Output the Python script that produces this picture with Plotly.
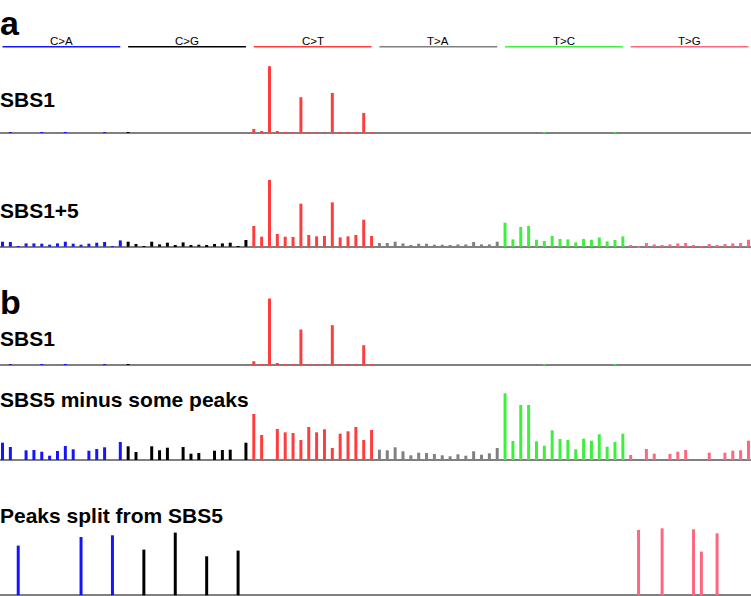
import plotly.graph_objects as go

# ---------------- data ----------------
groups = ["C>A", "C>G", "C>T", "T>A", "T>C", "T>G"]
group_colors = ["#1414ff", "#000000", "#ff3d3d", "#808080", "#3cf03c", "#ff6680"]
header_colors = ["#1414ff", "#000000", "#ff3d3d", "#808080", "#3cf03c", "#ff6680"]

# SBS1 (relative heights, 96 channels)
sbs1 = [0.0] * 96
sbs1_ct = [3.8, 0.8, 66.5, 1.3, 0.2, 0.2, 35.5, 0.2, 0.5, 0.2, 39.8, 0.2, 0.2, 0.2, 19.8, 0.2]
sbs1[32:48] = sbs1_ct
for i, v in [(1, 0.3), (5, 0.3), (8, 0.3), (13, 0.3), (16, 0.3), (60, 0.4), (69, 0.5), (78, 0.3)]:
    sbs1[i] = v

sbs1_5 = [
    # C>A
    5.0, 4.7, 0.7, 3.3, 3.3, 3.0, 2.0, 3.3, 5.0, 3.0, 2.0, 3.0, 4.0, 4.7, 0.7, 6.3,
    # C>G
    5.0, 2.7, 0.7, 5.0, 2.3, 4.0, 1.3, 4.3, 1.3, 2.0, 1.3, 2.7, 3.3, 4.0, 0.7, 6.7,
    # C>T
    20.7, 10.0, 66.7, 12.7, 10.0, 9.7, 43.0, 11.7, 10.3, 10.7, 44.3, 9.3, 10.3, 11.7, 27.0, 10.7,
    # T>A
    3.7, 3.7, 5.0, 3.3, 1.7, 3.0, 3.0, 2.0, 2.0, 1.3, 2.3, 2.3, 4.7, 2.3, 2.3, 5.0,
    # T>C
    24.0, 7.3, 19.7, 20.7, 7.0, 5.7, 10.7, 7.7, 7.3, 4.3, 7.7, 7.0, 9.3, 5.3, 6.7, 10.3,
    # T>G
    1.7, -0.7, 3.7, 2.3, 1.0, 2.3, 3.3, 3.7, 1.0, 0.7, 2.7, 1.0, 2.7, 3.3, 3.7, 7.0,
]

sbs5_minus = [
    # C>A
    17.3, 13.0, 0.0, 9.7, 10.0, 8.3, 4.3, 9.0, 14.0, 10.7, 0.0, 9.3, 11.0, 12.7, 0.0, 18.0,
    # C>G
    13.7, 8.0, 0.0, 13.7, 9.7, 12.3, 0.0, 13.0, 6.3, 7.0, 0.0, 9.3, 10.0, 10.3, 0.0, 17.3,
    # C>T
    46.0, 25.0, 0.0, 31.0, 27.7, 27.0, 20.0, 33.0, 27.7, 30.7, 12.0, 26.3, 28.7, 33.0, 20.0, 30.0,
    # T>A
    10.3, 9.7, 12.7, 8.7, 4.7, 7.3, 7.0, 6.0, 4.7, 3.7, 5.7, 4.3, 8.7, 5.3, 6.7, 12.0,
    # T>C
    66.7, 19.0, 55.0, 55.0, 18.7, 14.3, 29.7, 21.0, 20.0, 10.7, 21.3, 19.3, 25.7, 13.3, 18.0, 26.3,
    # T>G
    5.0, 0.0, 11.0, 6.3, 0.0, 6.0, 8.3, 10.0, 0.0, 0.0, 7.3, 0.0, 7.3, 9.3, 9.7, 19.3,
]

peaks = [0.0] * 96
peak_idx = [2, 10, 14, 18, 22, 26, 30, 81, 84, 88, 89, 91]
peak_val = [49.7, 58.3, 60.0, 45.7, 62.7, 39.0, 44.7, 65.3, 67.0, 66.0, 43.7, 62.0]
for i, v in zip(peak_idx, peak_val):
    peaks[i] = v

panel_names = ["SBS1", "SBS1+5", "SBS1", "SBS5 minus some peaks", "Peaks split from SBS5"]
panel_data = [sbs1, sbs1_5, sbs1, sbs5_minus, peaks]

# ---------------- layout geometry (pixels) ----------------
W, H = 751, 596
# (top px, bottom px, baseline px)
panel_px = [(60, 136, 132.7), (170, 252, 246.7), (290, 370, 365.0), (385, 465, 460.0), (525, 596, 595.3)]
label_y = [99.5, 210.0, 338.7, 399.0, 515.8]

x = list(range(96))
bar_colors = [group_colors[i // 16] for i in x]

fig = go.Figure()
layout = dict(
    width=W, height=H, margin=dict(l=0, r=0, t=0, b=0),
    paper_bgcolor="white", plot_bgcolor="white", showlegend=False,
)
annotations = []
shapes = []

FONT = "Liberation Sans, Arial"

for k, (data, (top, bot, base)) in enumerate(zip(panel_data, panel_px)):
    n = "" if k == 0 else str(k + 1)
    fig.add_trace(go.Bar(
        x=x, y=data, width=0.38, marker=dict(color=bar_colors, line=dict(width=0)),
        xaxis="x" + n, yaxis="y" + n, hoverinfo="skip",
    ))
    layout["xaxis" + n] = dict(
        domain=[0, 1], range=[-0.32, 95.32], visible=False,
        anchor="y" + n, fixedrange=True,
    )
    layout["yaxis" + n] = dict(
        domain=[1 - bot / H, 1 - top / H], range=[-(bot - base), base - top],
        showticklabels=False, showgrid=False, showline=False, ticks="",
        zeroline=True, zerolinecolor="#808080", zerolinewidth=1.6,
        anchor="x" + n, fixedrange=True,
    )
    annotations.append(dict(
        text="<b>%s</b>" % panel_names[k], xref="paper", yref="paper",
        x=-2.0 / W, y=1 - label_y[k] / H, xanchor="left", yanchor="middle",
        showarrow=False, font=dict(family=FONT, size=21, color="black"),
    ))

# panel letters
for letter, ypx in [("a", 22.5), ("b", 302.0)]:
    annotations.append(dict(
        text="<b>%s</b>" % letter, xref="paper", yref="paper",
        x=-2.0 / W, y=1 - ypx / H, xanchor="left", yanchor="middle",
        showarrow=False, font=dict(family=FONT, size=34, color="black"),
    ))

# mutation-type header
for g, name in enumerate(groups):
    x0, x1 = 16 * g, 16 * g + 15
    shapes.append(dict(
        type="line", xref="x", yref="paper", x0=x0, x1=x1,
        y0=1 - 46.8 / H, y1=1 - 46.8 / H,
        line=dict(color=header_colors[g], width=1.5),
    ))
    annotations.append(dict(
        text=name, xref="x", yref="paper", x=(x0 + x1) / 2, y=1 - 41.0 / H,
        xanchor="center", yanchor="middle", showarrow=False,
        font=dict(family=FONT, size=11.5, color="black"),
    ))

layout["annotations"] = annotations
layout["shapes"] = shapes
fig.update_layout(**layout)
fig.write_html(
    "out.html",
    config={"displayModeBar": False},
    post_script="document.body.style.margin='0';document.body.style.padding='0';",
)
